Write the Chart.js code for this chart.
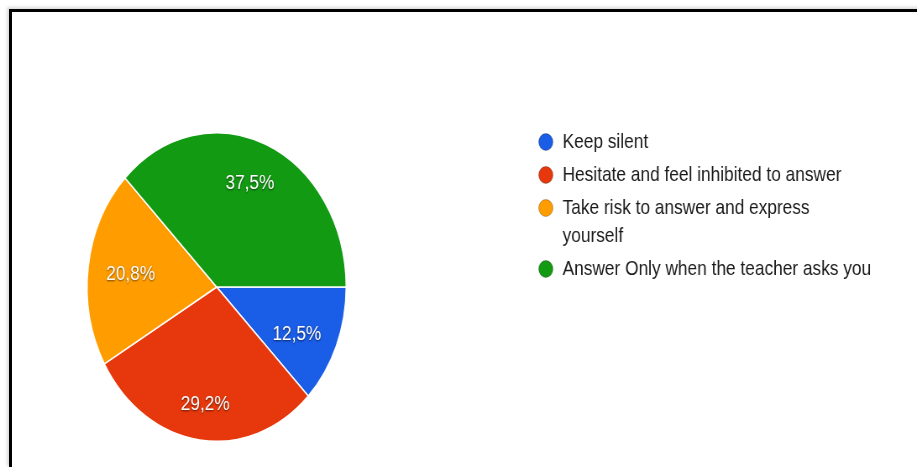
<!DOCTYPE html>
<html>
<head>
<meta charset="utf-8">
<script src="https://cdn.jsdelivr.net/npm/chart.js@4"></script>
<style>
    html, body {
        margin: 0;
        padding: 0;
        background: #fff;
        overflow: hidden;
        width: 917px;
        height: 467px;
    }

    #frame {
        position: absolute;
        left: 9px;
        top: 9px;
        width: 1000px;
        height: 455px;
        border-left: 3px solid #000;
        border-top: 3px solid #000;
        border-bottom: 1px solid #e6e6e6;
        box-shadow: -2px -2px 3px rgba(0, 0, 0, 0.15);
        background: #fff;
    }

    #wrap {
        position: absolute;
        left: 0;
        top: 0;
        width: 1092px;
        height: 467px;
        transform: scaleX(0.8397);
        transform-origin: 0 0;
    }
</style>
</head>
<body>

<div id="frame"></div>

<div id="wrap">
    <canvas id="chart" width="1092" height="467"></canvas>
</div>

<script>

const answers = [
    "Keep silent",
    "Hesitate and feel inhibited to answer",
    ["Take risk to answer and express", "yourself"],
    "Answer Only when the teacher asks you"
];

const shares = [12.5, 29.2, 20.8, 37.5];

const shareLabels = ["12,5%", "29,2%", "20,8%", "37,5%"];

const sliceColors = ["#1a5de6", "#e6380c", "#ff9d00", "#139a13"];


// percentage text inside each slice
const sliceLabels = {
    id: "sliceLabels",
    afterDatasetsDraw(chart) {

        const ctx = chart.ctx;
        const arcs = chart.getDatasetMeta(0).data;

        ctx.save();
        ctx.font = "20.5px 'Liberation Sans', Arial, sans-serif";
        ctx.fillStyle = "#fff";
        ctx.textAlign = "center";
        ctx.textBaseline = "middle";
        ctx.shadowColor = "rgba(0,0,0,0.6)";
        ctx.shadowBlur = 2;
        ctx.shadowOffsetX = 0;
        ctx.shadowOffsetY = 1;

        arcs.forEach((arc, i) => {
            const p = arc.getProps(["x", "y", "startAngle", "endAngle", "outerRadius"], true);
            const mid = (p.startAngle + p.endAngle) / 2;
            const x = p.x + Math.cos(mid) * p.outerRadius * 0.67;
            const y = p.y + Math.sin(mid) * p.outerRadius * 0.75 + 3;
            ctx.fillText(shareLabels[i], x, y);
        });

        ctx.restore();
    }
};


// legend on the right, one dot per answer
const sideLegend = {
    id: "sideLegend",
    afterDraw(chart) {

        const ctx = chart.ctx;
        const dotX = 650;
        const textX = 670;
        let y = 142;

        ctx.save();
        ctx.font = "20.6px 'Liberation Sans', Arial, sans-serif";
        ctx.textAlign = "left";
        ctx.textBaseline = "middle";

        answers.forEach((label, i) => {

            const lines = Array.isArray(label) ? label : [label];

            ctx.beginPath();
            ctx.arc(dotX, y, 8.5, 0, Math.PI * 2);
            ctx.fillStyle = sliceColors[i];
            ctx.fill();
            ctx.lineWidth = 1;
            ctx.strokeStyle = "rgba(0,0,0,0.25)";
            ctx.stroke();

            ctx.fillStyle = "#1a1a1a";
            lines.forEach((line, j) => {
                ctx.fillText(line, textX, y + j * 28);
            });

            y += 33 + (lines.length - 1) * 28;
        });

        ctx.restore();
    }
};


const ctx = document.getElementById("chart");

new Chart(ctx, {

    type: "pie",

    data: {
        labels: answers,
        datasets: [{
            data: shares,
            backgroundColor: sliceColors,
            borderColor: "#fff",
            borderWidth: 1.5
        }]
    },

    options: {
        responsive: false,
        animation: false,
        rotation: 90,
        layout: {
            padding: {
                left: 103,
                right: 679,
                top: 132,
                bottom: 25
            }
        },
        plugins: {
            legend: { display: false },
            tooltip: { enabled: false }
        }
    },

    plugins: [sliceLabels, sideLegend]

});

</script>
</body>
</html>
